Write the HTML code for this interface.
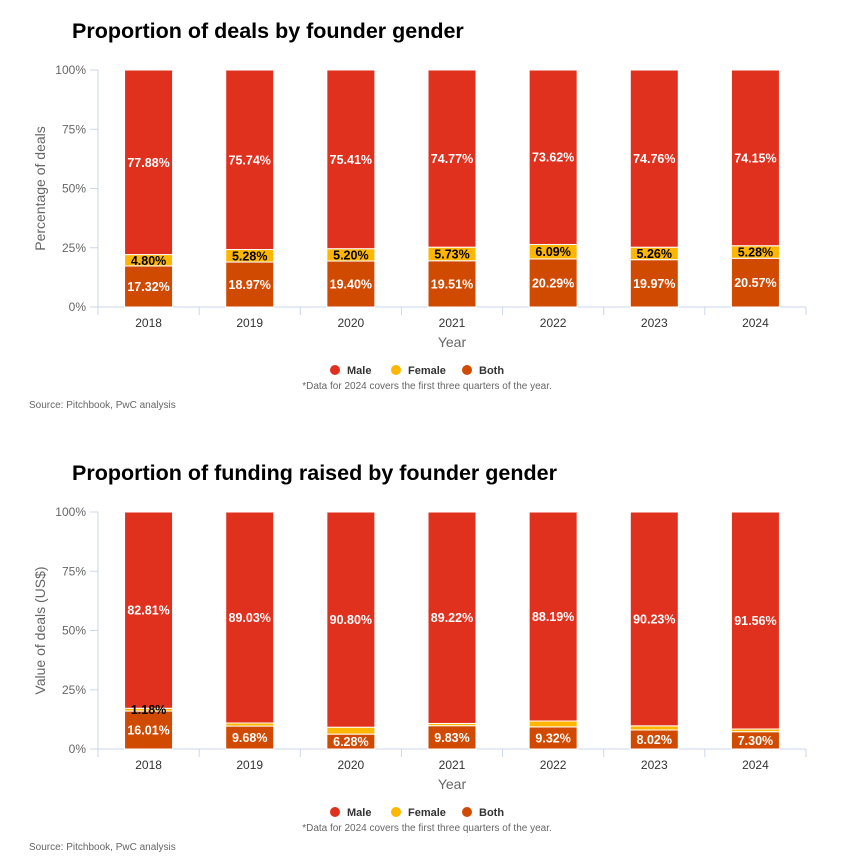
<!DOCTYPE html>
<html><head><meta charset="utf-8"><style>
body{margin:0;background:#fff;width:863px;height:860px;overflow:hidden;font-family:"Liberation Sans",Arial,sans-serif}
svg{display:block}
</style></head><body>
<svg id="svg" width="863" height="860" xmlns="http://www.w3.org/2000/svg"></svg>
<script>
const categories=["2018","2019","2020","2021","2022","2023","2024"];
const dealsMale=[77.88,75.74,75.41,74.77,73.62,74.76,74.15];
const dealsFemale=[4.80,5.28,5.20,5.73,6.09,5.26,5.28];
const dealsBoth=[17.32,18.97,19.40,19.51,20.29,19.97,20.57];
const fundMale=[82.81,89.03,90.80,89.22,88.19,90.23,91.56];
const fundFemale=[1.18,1.29,2.92,0.95,2.49,1.75,1.14];
const fundBoth=[16.01,9.68,6.28,9.83,9.32,8.02,7.30];
const yTicks=[0,25,50,75,100];
const yTickLabels=["0%","25%","50%","75%","100%"];
const C={male:"#e0301e",female:"#ffb600",both:"#d04a02"};
const NS="http://www.w3.org/2000/svg";
const svg=document.getElementById("svg");
function mk(tag,attrs,parent,text){const e=document.createElementNS(NS,tag);for(const k in attrs)e.setAttribute(k,attrs[k]);if(text!==undefined)e.textContent=text;(parent||svg).appendChild(e);return e;}
function chart(prefix,y0,title,ytitle,male,female,both,showFemaleAll){
  const g=mk("g",{});
  
  
  const x0=98,x1=806,top=y0+40,bot=y0+277;
  const yS=v=>bot-(v/100)*(bot-top);
  const bw=(x1-x0)/categories.length;
  const xC=i=>x0+bw*(i+0.5);
  const t=mk("text",{x:72,y:y0+8,"font-size":21.5,"font-weight":"bold",fill:"#000"},g,title);
  
  const at=mk("text",{x:0,y:0,"font-size":14,fill:"#666","text-anchor":"middle",transform:`translate(45,${(top+bot)/2}) rotate(-90)`},g,ytitle);
  
  mk("line",{x1:x0,y1:top,x2:x0,y2:bot,stroke:"#ccd6eb"},g);
  yTicks.forEach((v,i)=>{
    mk("line",{x1:x0-8,y1:yS(v),x2:x0,y2:yS(v),stroke:"#ccd6eb"},g);
    const l=mk("text",{x:x0-12,y:yS(v)+4,"font-size":12,fill:"#666","text-anchor":"end"},g,yTickLabels[i]);
    
  });
  mk("line",{x1:x0,y1:bot,x2:x1,y2:bot,stroke:"#ccd6eb"},g);
  for(let i=0;i<=categories.length;i++)mk("line",{x1:x0+bw*i,y1:bot,x2:x0+bw*i,y2:bot+8,stroke:"#ccd6eb"},g);
  const labels=[];
  categories.forEach((c,i)=>{
    const l=mk("text",{x:xC(i),y:bot+20,"font-size":12,fill:"#333","text-anchor":"middle"},g,c);
    
    const segs=[[both[i],C.both,"both","#fff"],[female[i],C.female,"female","#000"],[male[i],C.male,"male","#fff"]];
    let acc=0;
    segs.forEach(([v,col,nm,tc])=>{
      const yt=yS(acc+v),yb=yS(acc);
      const r=mk("rect",{x:xC(i)-24,y:yt,width:48,height:Math.max(0,yb-yt),fill:col,stroke:"#fff","stroke-width":1},g);
      
      if(nm!=="female"||showFemaleAll||i===0){
        labels.push([xC(i),(yt+yb)/2+4.5,tc,v.toFixed(2)+"%"]);
      }
      acc+=v;
    });
  });
  labels.forEach(([x,y,tc,txt])=>{
    const lb=mk("text",{x:x,y:y,"font-size":12.5,"font-weight":"bold",fill:tc,"text-anchor":"middle"},g,txt);
    
  });
  const xt=mk("text",{x:452,y:bot+40,"font-size":14,fill:"#666","text-anchor":"middle"},g,"Year");
  
  const leg=[["Male",C.male,335],["Female",C.female,396],["Both",C.both,467]];
  leg.forEach(([n,col,x])=>{
    const lg=mk("g",{},g);
    
    mk("circle",{cx:x,cy:bot+63,r:5,fill:col},lg);
    mk("text",{x:x+12,y:bot+67,"font-size":11,"font-weight":"bold",fill:"#333"},lg,n);
  });
  const nt=mk("text",{x:427,y:bot+82,"font-size":10,fill:"#666","text-anchor":"middle"},g,"*Data for 2024 covers the first three quarters of the year.");
  
  const sc=mk("text",{x:29,y:bot+101,"font-size":10,fill:"#666"},g,"Source: Pitchbook, PwC analysis");
  
}
chart("deals",30,"Proportion of deals by founder gender","Percentage of deals",dealsMale,dealsFemale,dealsBoth,true);
chart("funding",472,"Proportion of funding raised by founder gender","Value of deals (US$)",fundMale,fundFemale,fundBoth,false);
</script>
</body></html>
